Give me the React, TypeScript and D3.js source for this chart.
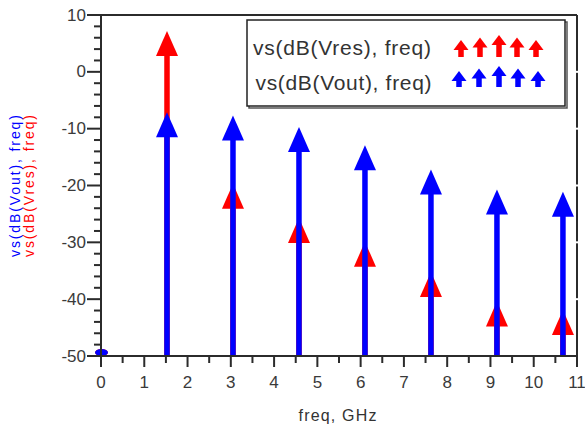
import React from "react";
import * as d3 from "d3";

// Harmonic frequencies (GHz) and the two dB spectra
const freqs = [0, 1.525, 3.05, 4.575, 6.1, 7.625, 9.15, 10.675];
const vresDb = [-50, 7.2, -19.7, -25.7, -29.9, -35.2, -40.4, -41.9];
const voutDb = [-50, -7.1, -7.7, -9.7, -12.9, -17.2, -20.7, -21.1];

const xTicks = [0, 1, 2, 3, 4, 5, 6, 7, 8, 9, 10, 11];
const yTicks = [10, 0, -10, -20, -30, -40, -50];

const resLabel = "vs(dB(Vres), freq)";
const outLabel = "vs(dB(Vout), freq)";
const xLabel = "freq, GHz";

const W = 585;
const H = 429;
const RED = "#ff0000";
const BLUE = "#0000ff";
const AXIS = "#2b2b2b";
const FONT = "'Liberation Sans', Arial, sans-serif";

const x = d3.scaleLinear().domain([0, 11]).range([101, 577]);
const y = d3.scaleLinear().domain([-50, 10]).range([356, 15]);

const HEAD_H = 25;
const HEAD_W = 22;
const STEM_W = 5.5;

function Stems({ values, color }: { values: number[]; color: string }) {
  const base = y(-50);
  return (
    <g>
      {freqs.map((f, i) => {
        const cx = x(f);
        const tip = y(values[i]);
        if (base - tip < 1) {
          // zero-length arrow sitting on the baseline
          return <ellipse key={i} cx={cx + 0.5} cy={base - 3.5} rx={6.5} ry={3.5} fill={color} />;
        }
        const headBase = tip + HEAD_H;
        const path = d3.path();
        path.moveTo(cx, tip);
        path.lineTo(cx + HEAD_W / 2, headBase);
        path.lineTo(cx - HEAD_W / 2, headBase);
        path.closePath();
        return (
          <g key={i}>
            <rect x={cx - STEM_W / 2} y={headBase - 1} width={STEM_W} height={base - headBase + 1} fill={color} />
            <path d={path.toString()} fill={color} />
          </g>
        );
      })}
    </g>
  );
}

function LegendArrows({ x0, tops, bottom, color }: { x0: number[]; tops: number[]; bottom: number; color: string }) {
  return (
    <g>
      {x0.map((cx, i) => {
        const t = tops[i];
        const hb = t + 10;
        return (
          <g key={i}>
            <rect x={cx - 2.75} y={hb - 0.5} width={5.5} height={bottom - hb + 0.5} fill={color} />
            <path d={`M${cx},${t}L${cx + 7.5},${hb}L${cx - 7.5},${hb}Z`} fill={color} />
          </g>
        );
      })}
    </g>
  );
}

export default function App() {
  const xMinor = d3.range(0.5, 11, 1);
  const yMinor = d3.range(-48, 10, 2).filter((v) => v % 10 !== 0);
  const x0 = x(0);
  const yB = y(-50);
  const yT = y(10);
  const xR = x(11);
  const legX = [461, 480, 499, 517, 536];

  return (
    <svg
      width={W}
      height={H}
      viewBox={`0 0 ${W} ${H}`}
      style={{ position: "fixed", left: 0, top: 0, background: "#fff" }}
      fontFamily={FONT}
    >
      <rect width={W} height={H} fill="#fff" />

      {/* series: Vres behind, Vout on top */}
      <Stems values={vresDb} color={RED} />
      <Stems values={voutDb} color={BLUE} />

      {/* frame */}
      <line x1={88} x2={xR} y1={yT} y2={yT} stroke={AXIS} strokeWidth={2} />
      <line x1={xR} x2={xR} y1={yT} y2={yB + 11} stroke={AXIS} strokeWidth={2} />
      <line x1={x0} x2={x0} y1={yT} y2={yB + 11} stroke={AXIS} strokeWidth={2} />
      <line x1={88} x2={xR} y1={yB} y2={yB} stroke={AXIS} strokeWidth={2} />
      {yTicks.slice(1, -1).map((v) => (
        <rect key={v} x={xR - 1} y={y(v) - 1} width={2} height={2} fill="#fff" />
      ))}

      {/* y ticks */}
      {yTicks.map((v) => (
        <g key={v}>
          <line x1={87} x2={x0} y1={y(v)} y2={y(v)} stroke={AXIS} strokeWidth={2} />
          <text x={86} y={y(v)} textAnchor="end" dominantBaseline="central" fontSize={17} fill="#3a3a3a">
            {v}
          </text>
        </g>
      ))}
      {yMinor.map((v) => (
        <line key={v} x1={94} x2={x0} y1={y(v)} y2={y(v)} stroke={AXIS} strokeWidth={2} />
      ))}

      {/* x ticks */}
      {xTicks.map((v) => (
        <g key={v}>
          <line x1={x(v)} x2={x(v)} y1={yB} y2={yB + 11} stroke={AXIS} strokeWidth={2} />
          <text x={x(v)} y={382} textAnchor="middle" dominantBaseline="central" fontSize={17} fill="#3a3a3a">
            {v}
          </text>
        </g>
      ))}
      {xMinor.map((v) => (
        <line key={v} x1={x(v)} x2={x(v)} y1={yB} y2={yB + 7} stroke={AXIS} strokeWidth={2} />
      ))}

      {/* axis titles */}
      <text x={337.5} y={415} textAnchor="middle" dominantBaseline="central" fontSize={16} fill="#333" textLength={78} lengthAdjust="spacing">
        {xLabel}
      </text>
      <text transform="translate(15,186) rotate(-90)" textAnchor="middle" dominantBaseline="central" fontSize={14} fill={BLUE} textLength={142} lengthAdjust="spacing">
        {outLabel}
      </text>
      <text transform="translate(28.5,186) rotate(-90)" textAnchor="middle" dominantBaseline="central" fontSize={14} fill={RED} textLength={142} lengthAdjust="spacing">
        {resLabel}
      </text>

      {/* legend */}
      <rect x={249} y={22} width={318} height={86} fill="none" stroke="#555" strokeWidth={1.5} />
      <rect x={247} y={20} width={318} height={86} fill="#fff" stroke="#222" strokeWidth={1.5} />
      <text x={253} y={47} dominantBaseline="central" fontSize={21} fill="#333" textLength={178} lengthAdjust="spacing">
        {resLabel}
      </text>
      <text x={255.5} y={82} dominantBaseline="central" fontSize={21} fill="#333" textLength={176} lengthAdjust="spacing">
        {outLabel}
      </text>
      <LegendArrows x0={legX} tops={[40, 37.5, 35, 37.5, 40]} bottom={57} color={RED} />
      <LegendArrows x0={legX.map((v, i) => v + (i - 2) * 1)} tops={[71, 68.5, 66, 68.5, 71]} bottom={87} color={BLUE} />
    </svg>
  );
}
